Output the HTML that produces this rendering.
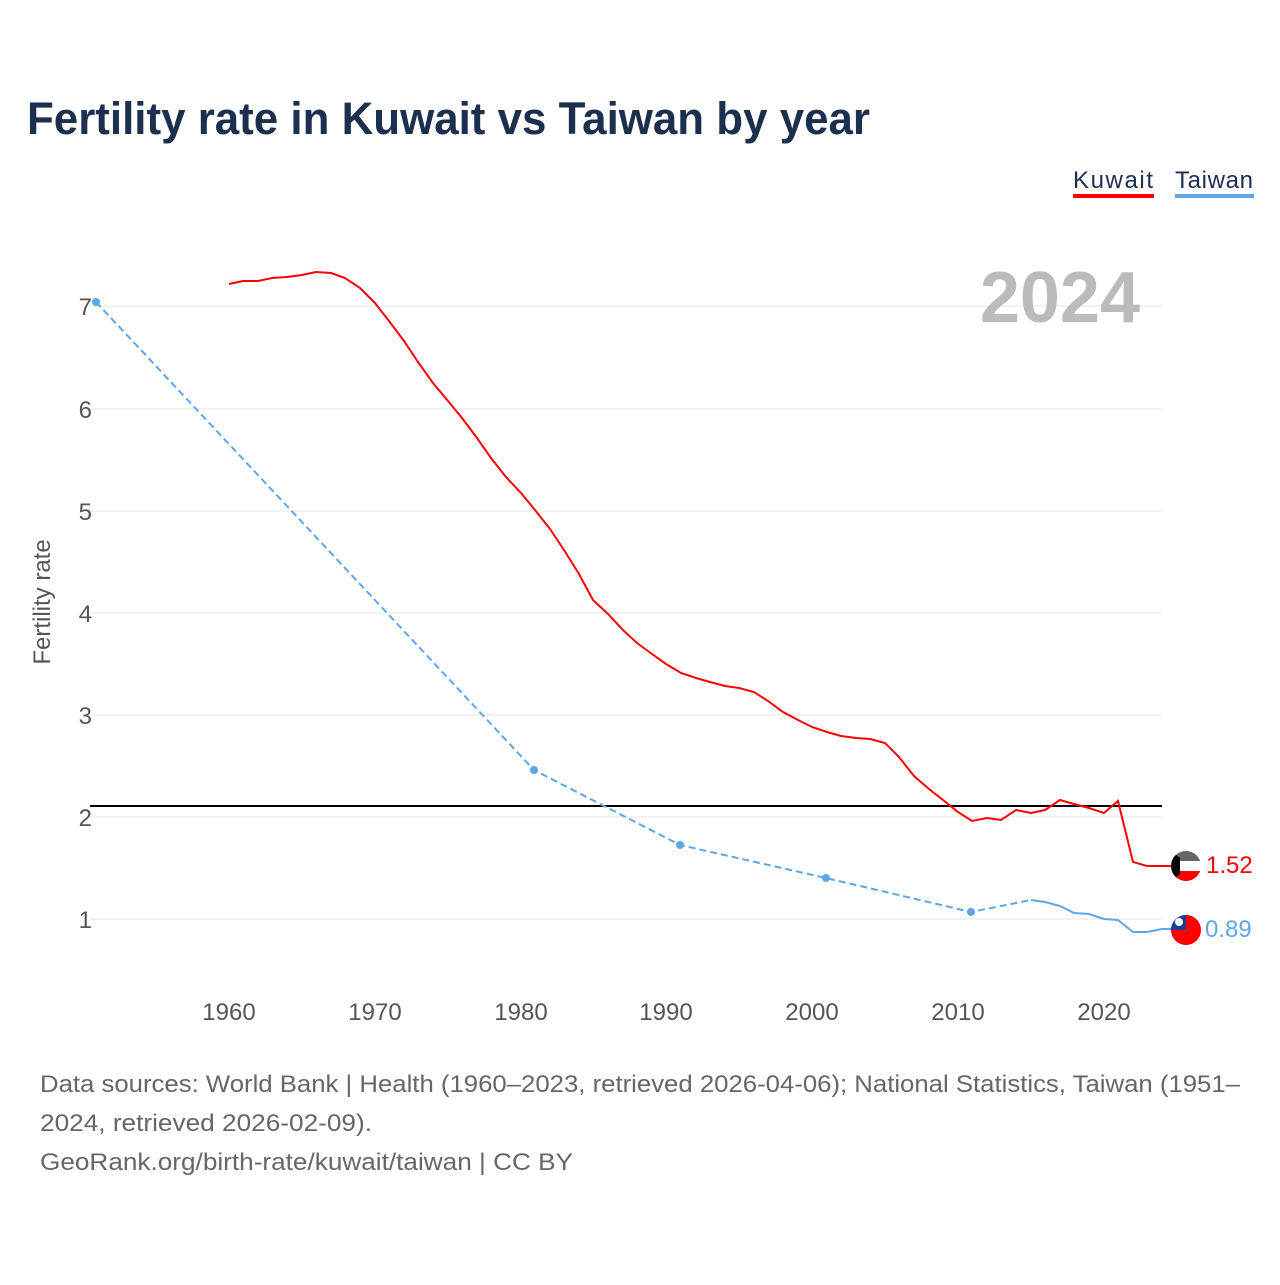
<!DOCTYPE html>
<html><head><meta charset="utf-8"><style>
body{margin:0;background:#fff;width:1280px;height:1280px;overflow:hidden;font-family:"Liberation Sans",sans-serif}
</style></head><body>
<svg width="1280" height="1280" xmlns="http://www.w3.org/2000/svg" font-family="Liberation Sans, sans-serif">
<text x="27" y="134" font-size="45" font-weight="bold" fill="#1b2f4e" textLength="843" lengthAdjust="spacingAndGlyphs">Fertility rate in Kuwait vs Taiwan by year</text>
<text x="1073" y="188" font-size="24" fill="#1b2f4e" textLength="80">Kuwait</text>
<rect x="1073" y="194" width="81" height="4" fill="#ff0000"/>
<text x="1175" y="188" font-size="24" fill="#1b2f4e" textLength="78">Taiwan</text>
<rect x="1175" y="194" width="79" height="4" fill="#5ea6ec"/>
<g stroke="#e6e6e6" stroke-width="1">
<line x1="90" x2="1162" y1="306" y2="306"/><line x1="90" x2="1162" y1="409" y2="409"/>
<line x1="90" x2="1162" y1="511" y2="511"/><line x1="90" x2="1162" y1="613" y2="613"/>
<line x1="90" x2="1162" y1="715" y2="715"/><line x1="90" x2="1162" y1="817" y2="817"/>
<line x1="90" x2="1162" y1="919" y2="919"/>
</g>
<g font-size="24" fill="#555" text-anchor="end">
<text x="92" y="315">7</text><text x="92" y="418">6</text><text x="92" y="520">5</text>
<text x="92" y="622">4</text><text x="92" y="724">3</text><text x="92" y="826">2</text><text x="92" y="928">1</text>
</g>
<g font-size="24" fill="#555" text-anchor="middle">
<text x="229" y="1020">1960</text><text x="375" y="1020">1970</text><text x="521" y="1020">1980</text>
<text x="666" y="1020">1990</text><text x="812" y="1020">2000</text><text x="958" y="1020">2010</text><text x="1104" y="1020">2020</text>
</g>
<text transform="translate(50,602) rotate(-90)" font-size="24" fill="#555" text-anchor="middle">Fertility rate</text>
<text x="1140" y="322" font-size="72" font-weight="bold" fill="#bbb" text-anchor="end">2024</text>
<line x1="90" x2="1162" y1="806" y2="806" stroke="#000" stroke-width="2"/>
<polyline fill="none" stroke="#ff0000" stroke-width="2" points="229,284 243,281 258,281 272,278 287,277 302,275 316,272 331,273 345,278 360,288 375,303 389,321 404,341 418,362 433,383 448,401 462,418 477,438 491,458 506,477 521,493 535,510 550,529 564,550 579,574 593,600 608,614 623,630 637,643 652,654 666,664 681,673 696,678 710,682 725,686 739,688 754,692 768,701 783,712 798,720 812,727 827,732 841,736 856,738 870,739 885,743 899,757 914,776 929,789 943,800 958,812 972,821 987,818 1001,820 1016,810 1031,813 1045,810 1060,800 1074,804 1089,808 1104,813 1118,801 1133,862 1147,866 1185,866"/>
<polyline fill="none" stroke="#5ea6ec" stroke-width="2" stroke-dasharray="7,4" points="96,302 534,770 680,845 826,878 971,912 1031,900"/>
<polyline fill="none" stroke="#5ea6ec" stroke-width="2" points="1031,900 1045,902 1060,906 1074,913 1089,914 1104,919 1118,920 1133,932 1147,932 1162,929 1185,929"/>
<g fill="#5ea6ec"><circle cx="96" cy="302" r="4"/><circle cx="534" cy="770" r="4"/><circle cx="680" cy="845" r="4"/><circle cx="826" cy="878" r="4"/><circle cx="971" cy="912" r="4"/></g>
<clipPath id="k"><circle cx="1186" cy="866" r="15"/></clipPath>
<g clip-path="url(#k)"><rect x="1170" y="850" width="32" height="11" fill="#666"/><rect x="1170" y="861" width="32" height="10" fill="#fff"/><rect x="1170" y="871" width="32" height="11" fill="#f00"/><polygon points="1170,850 1180,858 1180,874 1170,882" fill="#000"/></g>
<clipPath id="t"><circle cx="1186" cy="930" r="15"/></clipPath>
<g clip-path="url(#t)"><rect x="1170" y="914" width="32" height="32" fill="#f00"/><rect x="1170" y="914" width="16" height="16" fill="#1c3f94"/><circle cx="1179" cy="922" r="4" fill="#fff"/></g>
<text x="1206" y="873" font-size="24" fill="#ff0000">1.52</text>
<text x="1205" y="937" font-size="24" fill="#5ea6ec">0.89</text>
<g font-size="24" fill="#666">
<text x="40" y="1092" textLength="1200" lengthAdjust="spacingAndGlyphs">Data sources: World Bank | Health (1960–2023, retrieved 2026-04-06); National Statistics, Taiwan (1951–</text>
<text x="40" y="1131" textLength="332" lengthAdjust="spacingAndGlyphs">2024, retrieved 2026-02-09).</text>
<text x="40" y="1170" textLength="533" lengthAdjust="spacingAndGlyphs">GeoRank.org/birth-rate/kuwait/taiwan | CC BY</text>
</g>
</svg>
</body></html>
